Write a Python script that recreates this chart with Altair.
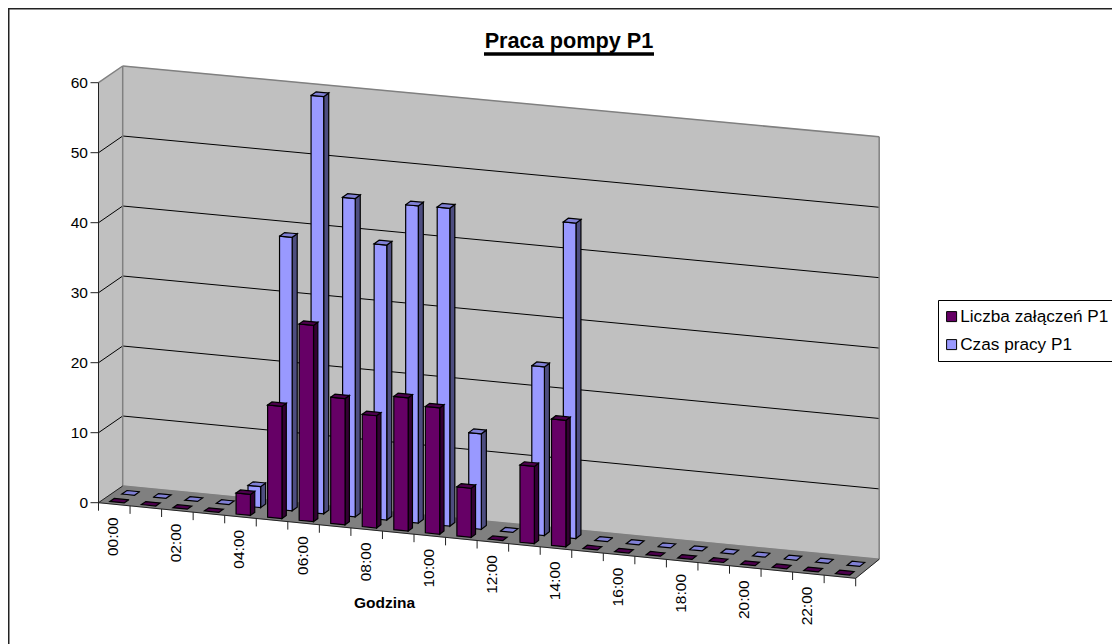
import altair as alt
import pandas as pd

hours = list(range(24))
hour_labels = [f"{h:02d}:00" for h in range(0, 24, 2)]
y_ticks = [0, 10, 20, 30, 40, 50, 60]
S1 = "Liczba załączeń P1"
S2 = "Czas pracy P1"
liczba = [0, 0, 0, 0, 3, 16, 28, 18, 16, 19, 18, 7, 0, 11, 18, 0, 0, 0, 0, 0, 0, 0, 0, 0]
czas = [0, 0, 0, 0, 3, 39, 59.5, 45.4, 39.2, 45.2, 45.3, 13.6, 0, 24, 44.9, 0, 0, 0, 0, 0, 0, 0, 0, 0]

FONT = "Liberation Sans"
W, H = 1104, 636


def P(h, d, v):
    """Oblique projection of (category position, depth 0..1, value) to page pixels."""
    x = 98.5 + 31.55 * h + (24.2 - 0.03 * h) * d
    y = 502.7 + 3.15 * h - (16.7 + 0.096 * h) * d - (7.0 + 0.0017 * h) * v
    return x, y


def poly(points, pid, **extra):
    """Convex polygon as rows of an area mark (x, y, y2 at each x breakpoint)."""
    xs = sorted({round(p[0], 3) for p in points})
    n = len(points)
    rows = []
    for x in xs:
        ys = []
        for i in range(n):
            (x0, y0), (x1, y1) = points[i], points[(i + 1) % n]
            lo, hi = min(x0, x1), max(x0, x1)
            if lo - 0.002 <= x <= hi + 0.002:
                if abs(x1 - x0) < 0.002:
                    ys += [y0, y1]
                else:
                    ys.append(y0 + (y1 - y0) * (x - x0) / (x1 - x0))
        rows.append({"x": x, "y": min(ys), "y2": max(ys), "pid": pid, **extra})
    return rows


X = alt.X("x:Q", scale=alt.Scale(domain=[8, 8 + W], range=[0, W], nice=False, zero=False), axis=None)
Y = alt.Y("y:Q", scale=alt.Scale(domain=[8 + H, 8], range=[H, 0], nice=False, zero=False), axis=None, stack=None)
X2 = alt.X2("x2:Q")
Y2 = alt.Y2("y2:Q")


def faces(points_list, fill, stroke="black", sw=1.2, series=None):
    rows = []
    for k, pts in enumerate(points_list):
        rows += poly(pts, k, series=series)
    ch = alt.Chart(pd.DataFrame(rows)).mark_area(
        orient="vertical", stroke=stroke, strokeWidth=sw, **({} if series else {"fill": fill}), interpolate="linear"
    )
    enc = dict(x=X, y=Y, y2=Y2, detail="pid:N")
    if series:
        enc["color"] = alt.Color(
            "series:N",
            scale=alt.Scale(domain=[S1, S2], range=["#660066", "#9999FF"]),
            legend=alt.Legend(
                title=None, orient="none", legendX=930, legendY=292, fillColor="white", strokeColor="black",
                padding=8, symbolType="square", symbolSize=100, symbolStrokeColor="black", symbolStrokeWidth=1,
                labelFont=FONT, labelFontSize=17.2, labelColor="black", labelLimit=300, rowPadding=10,
                labelOffset=0, symbolOffset=-3, symbolOpacity=1,
            ),
        )
    return ch.encode(**enc)


def rules(segs, color, sw=1.0):
    df = pd.DataFrame([{"x": a[0], "y": a[1], "x2": b[0], "y2": b[1]} for a, b in segs])
    return alt.Chart(df).mark_rule(color=color, strokeWidth=sw).encode(x=X, y=Y, x2=X2, y2=Y2)


def texts(rows, **kw):
    return alt.Chart(pd.DataFrame(rows)).mark_text(font=FONT, color="black", **kw).encode(x=X, y=Y, text="t:N")


def bars(vals, u0, u1, d0, d1, front, side, top, series):
    fr, si, to = [], [], []
    for i, v in zip(hours, vals):
        h0, h1 = i + u0, i + u1
        to.append([P(h0, d0, v), P(h1, d0, v), P(h1, d1, v), P(h0, d1, v)])
        if v > 0:
            fr.append([P(h0, d0, 0), P(h1, d0, 0), P(h1, d0, v), P(h0, d0, v)])
            si.append([P(h1, d0, 0), P(h1, d1, 0), P(h1, d1, v), P(h1, d0, v)])
    return [
        faces(si, side),
        faces(fr, front, series=series),
        faces(to, top),
    ]


layers = []
# walls and floor
layers.append(faces([[P(0, 0, 0), P(0, 1, 0), P(0, 1, 60), P(0, 0, 60)]], "#C0C0C0", stroke="#C0C0C0", sw=0.5))
layers.append(faces([[P(0, 1, 0), P(24, 1, 0), P(24, 1, 60), P(0, 1, 60)]], "#C0C0C0", stroke="#C0C0C0", sw=0.5))
layers.append(faces([[P(0, 0, 0), P(24, 0, 0), P(24, 1, 0), P(0, 1, 0)]], "#808080", stroke="#808080", sw=0.5))
# grid
grid = []
for v in y_ticks[1:-1]:
    grid += [(P(0, 0, v), P(0, 1, v)), (P(0, 1, v), P(24, 1, v))]
layers.append(rules(grid, "black", 1.0))
layers.append(rules([
    (P(0, 0, 60), P(0, 1, 60)), (P(0, 1, 60), P(24, 1, 60)),
    (P(0, 1, 0), P(0, 1, 60)), (P(24, 1, 0), P(24, 1, 60)),
    (P(0, 1, 0), P(24, 1, 0)),
], "#808080", 1.5))
# axes
ax = [(P(0, 0, 0), P(0, 0, 60)), (P(0, 0, 0), P(24, 0, 0)), (P(24, 0, 0), P(24, 1, 0)), (P(0, 0, 0), P(0, 1, 0))]
for v in y_ticks:
    x, y = P(0, 0, v)
    ax.append(((x - 8, y), (x, y)))
for h in range(25):
    x, y = P(h, 0, 0)
    ax.append(((x, y), (x, y + 8)))
layers.append(rules(ax, "#222222", 1.0))
# bars: back row first
layers += bars(czas, 0.30, 0.70, 0.575, 0.785, "#9999FF", "#4D4D80", "#8080D5", S2)
layers += bars(liczba, 0.265, 0.72, 0.125, 0.305, "#660066", "#330033", "#4D004D", S1)
# tick labels
layers.append(texts(
    [{"x": P(0, 0, v)[0] - 10.5, "y": P(0, 0, v)[1], "t": str(v)} for v in y_ticks],
    align="right", baseline="middle", fontSize=15.5,
))
layers.append(texts(
    [{"x": P(i + 0.5, 0, 0)[0] - 1, "y": P(i + 0.5, 0, 0)[1] + 13, "t": lab} for i, lab in zip(range(0, 24, 2), hour_labels)],
    align="right", baseline="middle", angle=270, fontSize=15.5,
))
layers.append(texts([{"x": 384.5, "y": 603, "t": "Godzina"}], align="center", baseline="middle", fontSize=15.5, fontWeight="bold"))
layers.append(texts([{"x": 569, "y": 48, "t": "Praca pompy P1"}], align="center", baseline="alphabetic", fontSize=21.7, fontWeight="bold"))
layers.append(rules([((484, 54), (654, 54))], "black", 3.5))
# chart frame
layers.append(rules([((8.7, 8), (8.7, 8 + H)), ((8, 8.7), (8 + W, 8.7))], "#222222", 1.6))

chart = alt.layer(*layers).resolve_scale(x="shared", y="shared").properties(
    width=W, height=H, padding=0, autosize=alt.AutoSizeParams(type="none"),
).configure_view(stroke=None)

chart.save("out.html", embed_options={"renderer": "svg", "actions": False})
